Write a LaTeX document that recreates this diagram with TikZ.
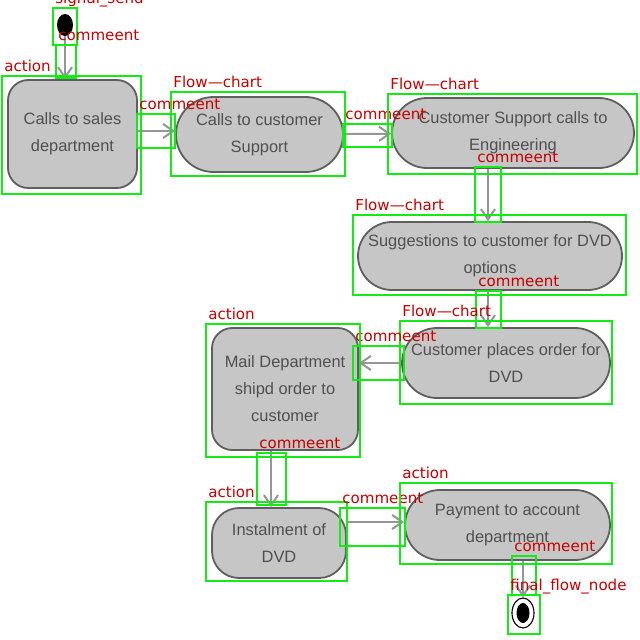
\documentclass[tikz,border=0pt]{standalone}
\usepackage{fontspec}
\newfontfamily\lblfont{DejaVu Sans}
\newfontfamily\actfont{Liberation Sans}
\usetikzlibrary{shapes.misc,shapes.geometric,arrows.meta}

\definecolor{boxgreen}{RGB}{20,235,20}
\definecolor{lblred}{RGB}{200,0,0}
\definecolor{actfill}{RGB}{198,198,198}
\definecolor{actline}{RGB}{95,95,95}
\definecolor{acttext}{RGB}{80,80,80}
\definecolor{flowgray}{RGB}{150,150,150}

\def\px{0.15625mm}

\tikzset{
  act/.style={draw=actline, fill=actfill, line width=0.8pt, text=acttext, align=center,
    font=\actfont\fontsize{7.3}{12}\selectfont, inner sep=0pt},
  pill/.style={act, rounded rectangle},
  rbox/.style={act, rectangle, rounded corners=9pt},
  flow/.style={draw=flowgray, line width=0.9pt, -{Straight Barb[length=1.6mm,width=2.2mm]}},
  gbox/.style={draw=boxgreen, line width=1.3pt},
  glabel/.style={text=lblred, font=\lblfont\fontsize{6.7}{7}\selectfont, anchor=base west,
    inner sep=0pt, xshift=0.4pt, yshift=2.2pt},
}

\begin{document}
\begin{tikzpicture}[x=0.015625cm, y=-0.015625cm]
\fill[white] (0,0) rectangle (640,640);
\useasboundingbox (0,0) rectangle (640,640);

% activities
\node[fill=black, ellipse, minimum width=16*\px, minimum height=22*\px, inner sep=0pt] (start) at (65,25) {};
\node[rbox, minimum width=129*\px, minimum height=108*\px] (n1) at (72.5,134) {Calls to sales\\department};
\node[pill, minimum width=167*\px, minimum height=75*\px] (n2) at (259.5,134.5) {Calls to customer\\Support};
\node[pill, minimum width=242*\px, minimum height=70*\px] (n3) at (513,133) {Customer Support calls to\\Engineering};
\node[pill, minimum width=264*\px, minimum height=68*\px] (n4) at (490,256) {Suggestions to customer for DVD\\options};
\node[pill, minimum width=208*\px, minimum height=70*\px] (n5) at (506,363) {Customer places order for\\DVD};
\node[rbox, minimum width=146*\px, minimum height=122*\px] (n6) at (285,389) {Mail Department\\shipd order to\\customer};
\node[rbox, rounded corners=12pt, minimum width=134*\px, minimum height=70*\px] (n7) at (279,543) {Instalment of\\DVD};
\node[pill, minimum width=205*\px, minimum height=70*\px] (n8) at (507.5,525) {Payment to account\\department};
\node[ellipse, draw=black, line width=0.5pt, fill=white, minimum width=22*\px, minimum height=30*\px, inner sep=0pt] (final) at (523,613) {};
\node[ellipse, fill=black, minimum width=13*\px, minimum height=20*\px, inner sep=0pt] (finalin) at (final) {};

% flows
\coordinate (a34) at (488,0);
\coordinate (a67) at (271,0);
\coordinate (a78) at (0,522);
\draw[flow] (start) -- (start |- n1.north);
\draw[flow] (n1.east |- 0,131) -- (n2.west |- 0,131);
\draw[flow] (n2) -- (n3);
\draw[flow] (n3.south -| a34) -- (n4.north -| a34);
\draw[flow] (n4.south -| a34) -- (n5.north -| a34);
\draw[flow] (n5.west) -- (n5.west -| n6.east);
\draw[flow] (n6.south -| a67) -- (n7.north -| a67);
\draw[flow] (n7.east |- a78) -- (n8.west |- a78);
\draw[flow] (n8.south -| final) -- (final.north);

% detections
\draw[gbox] (53,8) node[glabel] (l0) {signal\_send} rectangle (77,45);
\draw[gbox] (56,45) node[glabel] (l1) {commeent} rectangle (76,78);
\draw[gbox] (2,76) node[glabel] (l2) {action} rectangle (141,194);
\draw[gbox] (137,114) node[glabel] (l3) {commeent} rectangle (175,148);
\draw[gbox] (171,92) node[glabel] (l4) {Flow—chart} rectangle (345,176);
\draw[gbox] (343,124) node[glabel] (l5) {commeent} rectangle (392,147);
\draw[gbox] (388,94) node[glabel] (l6) {Flow—chart} rectangle (637,174);
\draw[gbox] (475,167) node[glabel] (l7) {commeent} rectangle (501,222);
\draw[gbox] (353,215) node[glabel] (l8) {Flow—chart} rectangle (626,295);
\draw[gbox] (476,291) node[glabel] (l9) {commeent} rectangle (501,328);
\draw[gbox] (400,321) node[glabel] (l10) {Flow—chart} rectangle (612,404);
\draw[gbox] (353,346) node[glabel] (l11) {commeent} rectangle (404,380);
\draw[gbox] (206,324) node[glabel] (l12) {action} rectangle (360,457);
\draw[gbox] (257,453) node[glabel] (l13) {commeent} rectangle (286,505);
\draw[gbox] (206,502) node[glabel] (l14) {action} rectangle (347,581);
\draw[gbox] (340,508) node[glabel] (l15) {commeent} rectangle (405,546);
\draw[gbox] (400,483) node[glabel] (l16) {action} rectangle (612,564);
\draw[gbox] (512,556) node[glabel] (l17) {commeent} rectangle (536,595);
\draw[gbox] (508,595) node[glabel] (l18) {final\_flow\_node} rectangle (540,634);
\end{tikzpicture}
\end{document}
